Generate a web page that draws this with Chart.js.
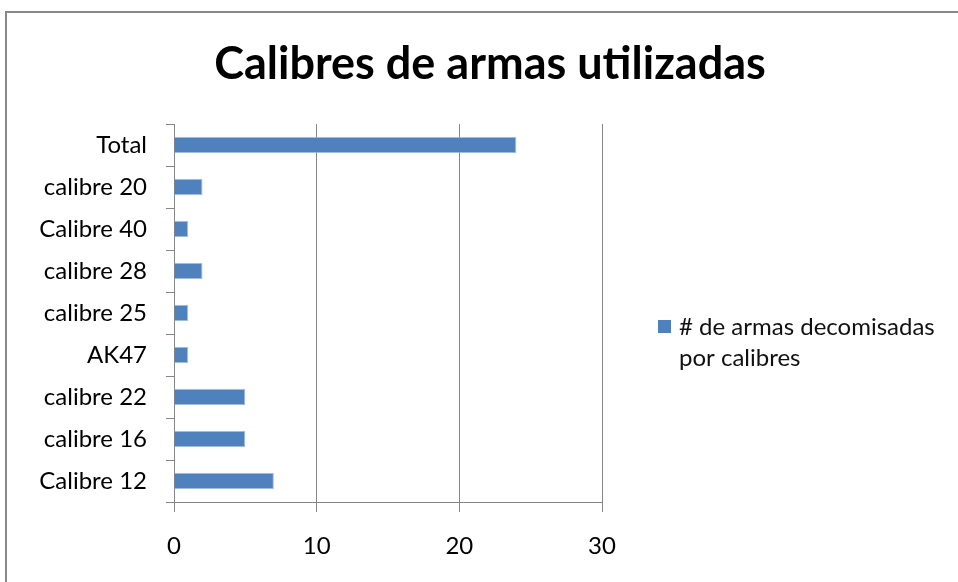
<!DOCTYPE html>
<html>
<head>
<meta charset="utf-8">
<script src="https://cdn.jsdelivr.net/npm/chart.js@4"></script>
<style>
html,body{margin:0;padding:0;background:#fff;}
#wrap{position:absolute;left:0;top:0;width:958px;height:582px;}
</style>
</head>
<body>
<div id="wrap"><canvas id="c" width="958" height="582"></canvas></div>
<script>
const categories = ["Total","calibre 20","Calibre 40","calibre 28","calibre 25","AK47","calibre 22","calibre 16","Calibre 12"];
const values = [24, 2, 1, 2, 1, 1, 5, 5, 7];
const xTicks = [0, 10, 20, 30];
const seriesLabel = "# de armas decomisadas por calibres";
const legendLines = ["# de armas decomisadas", "por calibres"];
const titleText = "Calibres de armas utilizadas";

const FONT = "Lato, 'Open Sans', sans-serif";

const decor = {
  id: 'decor',
  beforeDraw(chart) {
    const ctx = chart.ctx;
    ctx.save();
    ctx.fillStyle = '#fff';
    ctx.fillRect(0, 0, chart.width, chart.height);
    ctx.strokeStyle = '#888888';
    ctx.lineWidth = 2;
    ctx.strokeRect(6, 12, 1100, 1100);
    ctx.restore();
  },
  afterDraw(chart) {
    const ctx = chart.ctx;
    ctx.save();
    // title
    ctx.fillStyle = '#000';
    ctx.font = "bold 45px " + FONT;
    ctx.textAlign = 'center';
    ctx.textBaseline = 'middle';
    ctx.fillText(titleText, 490, 64);
    // legend
    const ds = chart.data.datasets[0];
    ctx.fillStyle = ds.backgroundColor;
    ctx.fillRect(658, 320, 13, 13);
    ctx.fillStyle = '#111';
    ctx.font = "24px " + FONT;
    ctx.textAlign = 'left';
    ctx.textBaseline = 'middle';
    legendLines.forEach((l, i) => ctx.fillText(l, 679, 327 + i * 31));
    ctx.restore();
  }
};

new Chart(document.getElementById('c'), {
  type: 'bar',
  data: {
    labels: categories,
    datasets: [{
      label: seriesLabel,
      data: values,
      backgroundColor: '#4F81BD',
      borderColor: '#A9C1DF',
      borderWidth: 1,
      categoryPercentage: 1,
      barPercentage: 0.39
    }]
  },
  options: {
    indexAxis: 'y',
    responsive: false,
    animation: false,
    layout: { padding: { top: 124, right: 356, left: 0, bottom: 0 } },
    plugins: { legend: { display: false }, title: { display: false }, tooltip: { enabled: false } },
    scales: {
      x: {
        min: 0, max: 30,
        afterBuildTicks(scale) { scale.ticks = xTicks.map(v => ({ value: v })); },
        afterFit(scale) { scale.height = 80; },
        grid: { color: '#868686', lineWidth: 1, tickLength: 10, drawTicks: true },
        border: { color: '#868686', width: 1 },
        ticks: { color: '#000', font: { family: FONT, size: 24 }, padding: 20 }
      },
      y: {
        offset: true,
        afterFit(scale) { scale.width = 174; },
        grid: { drawOnChartArea: false, color: '#868686', tickLength: 8, offset: true },
        border: { color: '#868686', width: 1 },
        ticks: { color: '#000', font: { family: FONT, size: 24 }, padding: 19 }
      }
    }
  },
  plugins: [decor]
});
</script>
</body>
</html>
